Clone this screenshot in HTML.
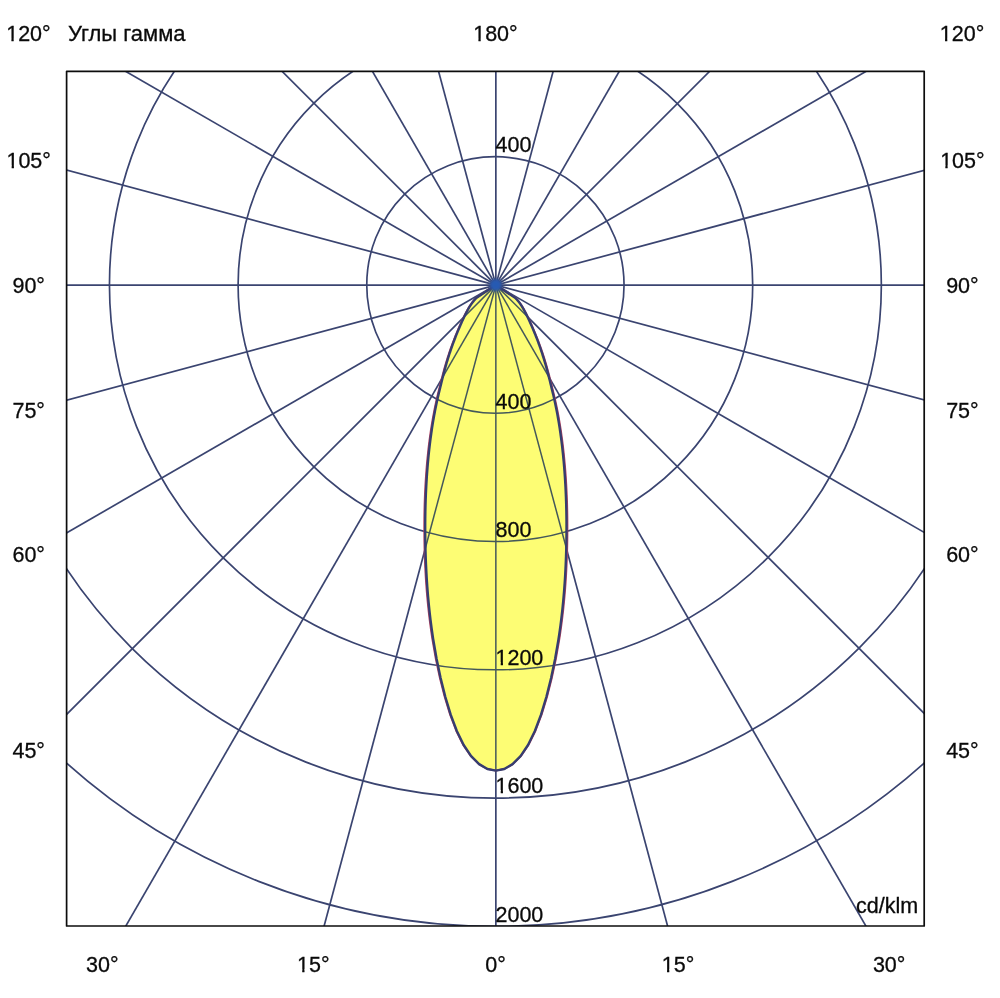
<!DOCTYPE html>
<html><head><meta charset="utf-8"><title>Углы гамма</title>
<style>
html,body{margin:0;padding:0;background:#fff;}
body{width:1000px;height:998px;overflow:hidden;}
svg{display:block;}
text{font-family:"Liberation Sans","Noto Sans CJK SC",Arial,sans-serif;font-size:21.5px;fill:#0a0a0a;stroke:#0a0a0a;stroke-width:0.3px;}
</style></head><body>
<svg width="1000" height="998" viewBox="0 0 1000 998">
<defs><filter id="bl" x="-1" y="-1" width="3" height="3"><feGaussianBlur stdDeviation="1.8"/></filter><clipPath id="c"><rect x="66.6" y="71.3" width="857.6" height="854.7"/></clipPath><clipPath id="y"><path d="M495.85,285.00 L476.26,298.06 L475.92,298.42 L475.58,298.78 L475.25,299.13 L474.92,299.49 L474.61,299.85 L474.30,300.20 L473.99,300.56 L473.70,300.92 L473.41,301.28 L473.12,301.64 L472.84,302.00 L472.56,302.36 L472.29,302.72 L472.03,303.08 L471.76,303.45 L471.50,303.82 L471.25,304.19 L471.00,304.56 L470.75,304.93 L470.50,305.31 L470.25,305.69 L470.01,306.07 L469.77,306.46 L469.53,306.85 L469.29,307.24 L469.06,307.64 L468.82,308.04 L468.59,308.45 L468.35,308.86 L468.12,309.28 L467.89,309.70 L467.65,310.12 L467.42,310.56 L467.18,310.99 L466.95,311.44 L466.71,311.89 L466.47,312.35 L466.23,312.81 L465.99,313.29 L465.75,313.77 L465.50,314.26 L465.26,314.75 L465.01,315.26 L464.75,315.77 L464.50,316.30 L464.24,316.83 L463.98,317.37 L463.72,317.92 L463.45,318.49 L463.19,319.06 L462.91,319.65 L462.64,320.25 L462.36,320.85 L462.07,321.48 L461.79,322.11 L461.49,322.76 L461.20,323.42 L460.90,324.09 L460.60,324.78 L460.29,325.48 L459.98,326.20 L459.66,326.93 L459.34,327.67 L459.01,328.44 L458.68,329.22 L458.35,330.01 L458.01,330.82 L457.66,331.65 L457.32,332.50 L456.96,333.37 L456.60,334.25 L456.24,335.15 L455.87,336.07 L455.50,337.01 L455.13,337.97 L454.75,338.95 L454.37,339.95 L453.98,340.97 L453.59,342.00 L453.20,343.06 L452.81,344.14 L452.41,345.23 L452.01,346.35 L451.61,347.49 L451.20,348.65 L450.79,349.83 L450.39,351.03 L449.98,352.25 L449.57,353.49 L449.16,354.75 L448.74,356.04 L448.33,357.34 L447.92,358.67 L447.50,360.02 L447.09,361.39 L446.68,362.78 L446.27,364.20 L445.85,365.64 L445.44,367.10 L445.03,368.58 L444.63,370.08 L444.22,371.61 L443.81,373.17 L443.40,374.76 L442.99,376.38 L442.57,378.04 L442.14,379.73 L441.71,381.48 L441.27,383.27 L440.82,385.11 L440.35,387.00 L439.88,388.95 L439.39,390.97 L438.89,393.04 L438.38,395.16 L437.88,397.32 L437.38,399.51 L436.89,401.72 L436.41,403.95 L435.94,406.22 L435.48,408.51 L435.02,410.83 L434.58,413.17 L434.14,415.55 L433.71,417.96 L433.29,420.40 L432.87,422.87 L432.47,425.37 L432.07,427.91 L431.69,430.48 L431.31,433.08 L430.94,435.72 L430.58,438.40 L430.23,441.11 L429.89,443.85 L429.56,446.64 L429.24,449.46 L428.92,452.33 L428.62,455.23 L428.33,458.17 L428.05,461.16 L427.78,464.19 L427.53,467.25 L427.28,470.37 L427.05,473.52 L426.82,476.72 L426.62,479.97 L426.42,483.26 L426.24,486.60 L426.07,489.99 L425.91,493.42 L425.77,496.91 L425.64,500.44 L425.53,504.02 L425.43,507.66 L425.35,511.34 L425.29,515.08 L425.24,518.87 L425.21,522.71 L425.20,526.61 L425.20,530.56 L425.23,534.57 L425.27,538.64 L425.34,542.76 L425.42,546.94 L425.52,551.17 L425.65,555.46 L425.80,559.80 L425.98,564.19 L426.19,568.62 L426.42,573.10 L426.68,577.62 L426.97,582.17 L427.29,586.77 L427.64,591.39 L428.03,596.04 L428.45,600.73 L428.91,605.43 L429.40,610.16 L429.93,614.91 L430.49,619.67 L431.10,624.45 L431.74,629.23 L432.42,634.03 L433.14,638.83 L433.29,639.79 L436.62,658.98 L440.61,678.03 L445.30,696.73 L450.69,714.66 L456.83,731.02 L463.68,745.04 L471.16,756.12 L479.12,764.11 L487.40,768.96 L495.85,770.59 L504.30,768.96 L512.58,764.11 L520.54,756.12 L528.02,745.04 L534.87,731.02 L541.01,714.66 L546.40,696.73 L551.09,678.03 L555.08,658.98 L558.41,639.79 L559.14,634.99 L559.83,630.19 L560.48,625.40 L561.09,620.62 L561.66,615.86 L562.20,611.11 L562.70,606.37 L563.16,601.66 L563.59,596.98 L563.98,592.32 L564.34,587.69 L564.67,583.09 L564.97,578.53 L565.23,574.00 L565.47,569.51 L565.68,565.07 L565.86,560.67 L566.02,556.32 L566.15,552.03 L566.26,547.78 L566.35,543.59 L566.42,539.46 L566.46,535.38 L566.49,531.36 L566.50,527.40 L566.49,523.49 L566.47,519.63 L566.42,515.83 L566.36,512.09 L566.28,508.39 L566.19,504.75 L566.08,501.15 L565.96,497.61 L565.82,494.12 L565.67,490.67 L565.50,487.28 L565.32,483.93 L565.12,480.63 L564.92,477.37 L564.70,474.16 L564.47,471.00 L564.22,467.87 L563.97,464.80 L563.70,461.76 L563.42,458.77 L563.14,455.82 L562.84,452.90 L562.53,450.03 L562.21,447.20 L561.88,444.41 L561.54,441.65 L561.19,438.93 L560.83,436.25 L560.47,433.61 L560.09,431.00 L559.70,428.42 L559.31,425.88 L558.91,423.37 L558.50,420.89 L558.08,418.45 L557.65,416.03 L557.21,413.65 L556.77,411.29 L556.31,408.97 L555.85,406.67 L555.38,404.40 L554.90,402.16 L554.42,399.95 L553.92,397.76 L553.42,395.59 L552.92,393.46 L552.41,391.38 L551.92,389.35 L551.44,387.39 L550.98,385.48 L550.52,383.63 L550.08,381.83 L549.64,380.08 L549.22,378.37 L548.80,376.71 L548.38,375.08 L547.97,373.48 L547.56,371.92 L547.16,370.39 L546.75,368.88 L546.34,367.39 L545.93,365.93 L545.52,364.48 L545.10,363.06 L544.69,361.67 L544.28,360.29 L543.87,358.94 L543.45,357.61 L543.04,356.29 L542.63,355.01 L542.22,353.74 L541.80,352.49 L541.39,351.27 L540.99,350.06 L540.58,348.88 L540.18,347.72 L539.77,346.58 L539.37,345.46 L538.97,344.36 L538.58,343.27 L538.19,342.21 L537.80,341.17 L537.41,340.15 L537.03,339.15 L536.65,338.17 L536.27,337.20 L535.90,336.26 L535.53,335.34 L535.17,334.43 L534.81,333.54 L534.45,332.67 L534.10,331.82 L533.76,330.99 L533.42,330.17 L533.08,329.37 L532.75,328.59 L532.43,327.83 L532.10,327.08 L531.79,326.34 L531.47,325.62 L531.17,324.92 L530.86,324.23 L530.56,323.55 L530.26,322.89 L529.97,322.24 L529.68,321.60 L529.40,320.98 L529.12,320.37 L528.84,319.77 L528.57,319.18 L528.30,318.60 L528.03,318.04 L527.77,317.48 L527.51,316.94 L527.25,316.40 L527.00,315.88 L526.74,315.36 L526.49,314.85 L526.25,314.35 L526.00,313.86 L525.76,313.38 L525.52,312.91 L525.28,312.44 L525.04,311.98 L524.80,311.53 L524.56,311.08 L524.33,310.64 L524.09,310.21 L523.86,309.78 L523.63,309.36 L523.39,308.94 L523.16,308.53 L522.92,308.12 L522.69,307.72 L522.45,307.32 L522.22,306.93 L521.98,306.54 L521.74,306.15 L521.49,305.77 L521.25,305.39 L521.00,305.01 L520.76,304.63 L520.50,304.26 L520.25,303.89 L519.99,303.52 L519.73,303.16 L519.46,302.79 L519.19,302.43 L518.92,302.07 L518.64,301.71 L518.35,301.35 L518.06,300.99 L517.77,300.63 L517.46,300.27 L517.15,299.92 L516.84,299.56 L516.52,299.20 L516.19,298.85 L515.85,298.49 L515.51,298.13 L515.44,298.06 Z"/></clipPath><clipPath id="o"><path clip-rule="evenodd" d="M0,0 H1000 V998 H0 Z M495.85,285.00 L476.26,298.06 L475.92,298.42 L475.58,298.78 L475.25,299.13 L474.92,299.49 L474.61,299.85 L474.30,300.20 L473.99,300.56 L473.70,300.92 L473.41,301.28 L473.12,301.64 L472.84,302.00 L472.56,302.36 L472.29,302.72 L472.03,303.08 L471.76,303.45 L471.50,303.82 L471.25,304.19 L471.00,304.56 L470.75,304.93 L470.50,305.31 L470.25,305.69 L470.01,306.07 L469.77,306.46 L469.53,306.85 L469.29,307.24 L469.06,307.64 L468.82,308.04 L468.59,308.45 L468.35,308.86 L468.12,309.28 L467.89,309.70 L467.65,310.12 L467.42,310.56 L467.18,310.99 L466.95,311.44 L466.71,311.89 L466.47,312.35 L466.23,312.81 L465.99,313.29 L465.75,313.77 L465.50,314.26 L465.26,314.75 L465.01,315.26 L464.75,315.77 L464.50,316.30 L464.24,316.83 L463.98,317.37 L463.72,317.92 L463.45,318.49 L463.19,319.06 L462.91,319.65 L462.64,320.25 L462.36,320.85 L462.07,321.48 L461.79,322.11 L461.49,322.76 L461.20,323.42 L460.90,324.09 L460.60,324.78 L460.29,325.48 L459.98,326.20 L459.66,326.93 L459.34,327.67 L459.01,328.44 L458.68,329.22 L458.35,330.01 L458.01,330.82 L457.66,331.65 L457.32,332.50 L456.96,333.37 L456.60,334.25 L456.24,335.15 L455.87,336.07 L455.50,337.01 L455.13,337.97 L454.75,338.95 L454.37,339.95 L453.98,340.97 L453.59,342.00 L453.20,343.06 L452.81,344.14 L452.41,345.23 L452.01,346.35 L451.61,347.49 L451.20,348.65 L450.79,349.83 L450.39,351.03 L449.98,352.25 L449.57,353.49 L449.16,354.75 L448.74,356.04 L448.33,357.34 L447.92,358.67 L447.50,360.02 L447.09,361.39 L446.68,362.78 L446.27,364.20 L445.85,365.64 L445.44,367.10 L445.03,368.58 L444.63,370.08 L444.22,371.61 L443.81,373.17 L443.40,374.76 L442.99,376.38 L442.57,378.04 L442.14,379.73 L441.71,381.48 L441.27,383.27 L440.82,385.11 L440.35,387.00 L439.88,388.95 L439.39,390.97 L438.89,393.04 L438.38,395.16 L437.88,397.32 L437.38,399.51 L436.89,401.72 L436.41,403.95 L435.94,406.22 L435.48,408.51 L435.02,410.83 L434.58,413.17 L434.14,415.55 L433.71,417.96 L433.29,420.40 L432.87,422.87 L432.47,425.37 L432.07,427.91 L431.69,430.48 L431.31,433.08 L430.94,435.72 L430.58,438.40 L430.23,441.11 L429.89,443.85 L429.56,446.64 L429.24,449.46 L428.92,452.33 L428.62,455.23 L428.33,458.17 L428.05,461.16 L427.78,464.19 L427.53,467.25 L427.28,470.37 L427.05,473.52 L426.82,476.72 L426.62,479.97 L426.42,483.26 L426.24,486.60 L426.07,489.99 L425.91,493.42 L425.77,496.91 L425.64,500.44 L425.53,504.02 L425.43,507.66 L425.35,511.34 L425.29,515.08 L425.24,518.87 L425.21,522.71 L425.20,526.61 L425.20,530.56 L425.23,534.57 L425.27,538.64 L425.34,542.76 L425.42,546.94 L425.52,551.17 L425.65,555.46 L425.80,559.80 L425.98,564.19 L426.19,568.62 L426.42,573.10 L426.68,577.62 L426.97,582.17 L427.29,586.77 L427.64,591.39 L428.03,596.04 L428.45,600.73 L428.91,605.43 L429.40,610.16 L429.93,614.91 L430.49,619.67 L431.10,624.45 L431.74,629.23 L432.42,634.03 L433.14,638.83 L433.29,639.79 L436.62,658.98 L440.61,678.03 L445.30,696.73 L450.69,714.66 L456.83,731.02 L463.68,745.04 L471.16,756.12 L479.12,764.11 L487.40,768.96 L495.85,770.59 L504.30,768.96 L512.58,764.11 L520.54,756.12 L528.02,745.04 L534.87,731.02 L541.01,714.66 L546.40,696.73 L551.09,678.03 L555.08,658.98 L558.41,639.79 L559.14,634.99 L559.83,630.19 L560.48,625.40 L561.09,620.62 L561.66,615.86 L562.20,611.11 L562.70,606.37 L563.16,601.66 L563.59,596.98 L563.98,592.32 L564.34,587.69 L564.67,583.09 L564.97,578.53 L565.23,574.00 L565.47,569.51 L565.68,565.07 L565.86,560.67 L566.02,556.32 L566.15,552.03 L566.26,547.78 L566.35,543.59 L566.42,539.46 L566.46,535.38 L566.49,531.36 L566.50,527.40 L566.49,523.49 L566.47,519.63 L566.42,515.83 L566.36,512.09 L566.28,508.39 L566.19,504.75 L566.08,501.15 L565.96,497.61 L565.82,494.12 L565.67,490.67 L565.50,487.28 L565.32,483.93 L565.12,480.63 L564.92,477.37 L564.70,474.16 L564.47,471.00 L564.22,467.87 L563.97,464.80 L563.70,461.76 L563.42,458.77 L563.14,455.82 L562.84,452.90 L562.53,450.03 L562.21,447.20 L561.88,444.41 L561.54,441.65 L561.19,438.93 L560.83,436.25 L560.47,433.61 L560.09,431.00 L559.70,428.42 L559.31,425.88 L558.91,423.37 L558.50,420.89 L558.08,418.45 L557.65,416.03 L557.21,413.65 L556.77,411.29 L556.31,408.97 L555.85,406.67 L555.38,404.40 L554.90,402.16 L554.42,399.95 L553.92,397.76 L553.42,395.59 L552.92,393.46 L552.41,391.38 L551.92,389.35 L551.44,387.39 L550.98,385.48 L550.52,383.63 L550.08,381.83 L549.64,380.08 L549.22,378.37 L548.80,376.71 L548.38,375.08 L547.97,373.48 L547.56,371.92 L547.16,370.39 L546.75,368.88 L546.34,367.39 L545.93,365.93 L545.52,364.48 L545.10,363.06 L544.69,361.67 L544.28,360.29 L543.87,358.94 L543.45,357.61 L543.04,356.29 L542.63,355.01 L542.22,353.74 L541.80,352.49 L541.39,351.27 L540.99,350.06 L540.58,348.88 L540.18,347.72 L539.77,346.58 L539.37,345.46 L538.97,344.36 L538.58,343.27 L538.19,342.21 L537.80,341.17 L537.41,340.15 L537.03,339.15 L536.65,338.17 L536.27,337.20 L535.90,336.26 L535.53,335.34 L535.17,334.43 L534.81,333.54 L534.45,332.67 L534.10,331.82 L533.76,330.99 L533.42,330.17 L533.08,329.37 L532.75,328.59 L532.43,327.83 L532.10,327.08 L531.79,326.34 L531.47,325.62 L531.17,324.92 L530.86,324.23 L530.56,323.55 L530.26,322.89 L529.97,322.24 L529.68,321.60 L529.40,320.98 L529.12,320.37 L528.84,319.77 L528.57,319.18 L528.30,318.60 L528.03,318.04 L527.77,317.48 L527.51,316.94 L527.25,316.40 L527.00,315.88 L526.74,315.36 L526.49,314.85 L526.25,314.35 L526.00,313.86 L525.76,313.38 L525.52,312.91 L525.28,312.44 L525.04,311.98 L524.80,311.53 L524.56,311.08 L524.33,310.64 L524.09,310.21 L523.86,309.78 L523.63,309.36 L523.39,308.94 L523.16,308.53 L522.92,308.12 L522.69,307.72 L522.45,307.32 L522.22,306.93 L521.98,306.54 L521.74,306.15 L521.49,305.77 L521.25,305.39 L521.00,305.01 L520.76,304.63 L520.50,304.26 L520.25,303.89 L519.99,303.52 L519.73,303.16 L519.46,302.79 L519.19,302.43 L518.92,302.07 L518.64,301.71 L518.35,301.35 L518.06,300.99 L517.77,300.63 L517.46,300.27 L517.15,299.92 L516.84,299.56 L516.52,299.20 L516.19,298.85 L515.85,298.49 L515.51,298.13 L515.44,298.06 Z"/></clipPath><clipPath id="k0"><rect x="0.20" y="11.40" width="56.52" height="27.40"/><rect x="0.20" y="38.79" width="5.00" height="10.60"/><rect x="11.45" y="38.79" width="2.21" height="10.60"/><rect x="18.17" y="38.79" width="38.55" height="10.60"/></clipPath><clipPath id="k1"><rect x="467.20" y="11.40" width="56.52" height="27.40"/><rect x="467.20" y="38.79" width="5.00" height="10.60"/><rect x="478.45" y="38.79" width="2.21" height="10.60"/><rect x="485.17" y="38.79" width="38.55" height="10.60"/></clipPath><clipPath id="k2"><rect x="933.80" y="11.40" width="56.52" height="27.40"/><rect x="933.80" y="38.79" width="5.00" height="10.60"/><rect x="945.05" y="38.79" width="2.21" height="10.60"/><rect x="951.77" y="38.79" width="38.55" height="10.60"/></clipPath><clipPath id="k3"><rect x="0.44" y="138.20" width="56.52" height="27.40"/><rect x="0.44" y="165.59" width="5.00" height="10.60"/><rect x="11.69" y="165.59" width="2.21" height="10.60"/><rect x="18.41" y="165.59" width="38.55" height="10.60"/></clipPath><clipPath id="k4"><rect x="934.14" y="138.20" width="56.52" height="27.40"/><rect x="934.14" y="165.59" width="5.00" height="10.60"/><rect x="945.39" y="165.59" width="2.21" height="10.60"/><rect x="952.11" y="165.59" width="38.55" height="10.60"/></clipPath><clipPath id="k5"><rect x="291.00" y="941.90" width="44.55" height="27.40"/><rect x="291.00" y="969.29" width="5.00" height="10.60"/><rect x="302.25" y="969.29" width="2.21" height="10.60"/><rect x="308.97" y="969.29" width="26.58" height="10.60"/></clipPath><clipPath id="k6"><rect x="655.80" y="941.90" width="44.55" height="27.40"/><rect x="655.80" y="969.29" width="5.00" height="10.60"/><rect x="667.05" y="969.29" width="2.21" height="10.60"/><rect x="673.77" y="969.29" width="26.58" height="10.60"/></clipPath><clipPath id="k7"><rect x="489.50" y="634.80" width="59.88" height="27.40"/><rect x="489.50" y="662.19" width="5.00" height="10.60"/><rect x="500.75" y="662.19" width="2.21" height="10.60"/><rect x="507.47" y="662.19" width="41.91" height="10.60"/></clipPath><clipPath id="k8"><rect x="489.50" y="762.70" width="59.88" height="27.40"/><rect x="489.50" y="790.09" width="5.00" height="10.60"/><rect x="500.75" y="790.09" width="2.21" height="10.60"/><rect x="507.47" y="790.09" width="41.91" height="10.60"/></clipPath></defs>
<rect width="1000" height="998" fill="#fff"/>
<g clip-path="url(#c)">
<path d="M495.85,285.00 L476.26,298.06 L475.92,298.42 L475.58,298.78 L475.25,299.13 L474.92,299.49 L474.61,299.85 L474.30,300.20 L473.99,300.56 L473.70,300.92 L473.41,301.28 L473.12,301.64 L472.84,302.00 L472.56,302.36 L472.29,302.72 L472.03,303.08 L471.76,303.45 L471.50,303.82 L471.25,304.19 L471.00,304.56 L470.75,304.93 L470.50,305.31 L470.25,305.69 L470.01,306.07 L469.77,306.46 L469.53,306.85 L469.29,307.24 L469.06,307.64 L468.82,308.04 L468.59,308.45 L468.35,308.86 L468.12,309.28 L467.89,309.70 L467.65,310.12 L467.42,310.56 L467.18,310.99 L466.95,311.44 L466.71,311.89 L466.47,312.35 L466.23,312.81 L465.99,313.29 L465.75,313.77 L465.50,314.26 L465.26,314.75 L465.01,315.26 L464.75,315.77 L464.50,316.30 L464.24,316.83 L463.98,317.37 L463.72,317.92 L463.45,318.49 L463.19,319.06 L462.91,319.65 L462.64,320.25 L462.36,320.85 L462.07,321.48 L461.79,322.11 L461.49,322.76 L461.20,323.42 L460.90,324.09 L460.60,324.78 L460.29,325.48 L459.98,326.20 L459.66,326.93 L459.34,327.67 L459.01,328.44 L458.68,329.22 L458.35,330.01 L458.01,330.82 L457.66,331.65 L457.32,332.50 L456.96,333.37 L456.60,334.25 L456.24,335.15 L455.87,336.07 L455.50,337.01 L455.13,337.97 L454.75,338.95 L454.37,339.95 L453.98,340.97 L453.59,342.00 L453.20,343.06 L452.81,344.14 L452.41,345.23 L452.01,346.35 L451.61,347.49 L451.20,348.65 L450.79,349.83 L450.39,351.03 L449.98,352.25 L449.57,353.49 L449.16,354.75 L448.74,356.04 L448.33,357.34 L447.92,358.67 L447.50,360.02 L447.09,361.39 L446.68,362.78 L446.27,364.20 L445.85,365.64 L445.44,367.10 L445.03,368.58 L444.63,370.08 L444.22,371.61 L443.81,373.17 L443.40,374.76 L442.99,376.38 L442.57,378.04 L442.14,379.73 L441.71,381.48 L441.27,383.27 L440.82,385.11 L440.35,387.00 L439.88,388.95 L439.39,390.97 L438.89,393.04 L438.38,395.16 L437.88,397.32 L437.38,399.51 L436.89,401.72 L436.41,403.95 L435.94,406.22 L435.48,408.51 L435.02,410.83 L434.58,413.17 L434.14,415.55 L433.71,417.96 L433.29,420.40 L432.87,422.87 L432.47,425.37 L432.07,427.91 L431.69,430.48 L431.31,433.08 L430.94,435.72 L430.58,438.40 L430.23,441.11 L429.89,443.85 L429.56,446.64 L429.24,449.46 L428.92,452.33 L428.62,455.23 L428.33,458.17 L428.05,461.16 L427.78,464.19 L427.53,467.25 L427.28,470.37 L427.05,473.52 L426.82,476.72 L426.62,479.97 L426.42,483.26 L426.24,486.60 L426.07,489.99 L425.91,493.42 L425.77,496.91 L425.64,500.44 L425.53,504.02 L425.43,507.66 L425.35,511.34 L425.29,515.08 L425.24,518.87 L425.21,522.71 L425.20,526.61 L425.20,530.56 L425.23,534.57 L425.27,538.64 L425.34,542.76 L425.42,546.94 L425.52,551.17 L425.65,555.46 L425.80,559.80 L425.98,564.19 L426.19,568.62 L426.42,573.10 L426.68,577.62 L426.97,582.17 L427.29,586.77 L427.64,591.39 L428.03,596.04 L428.45,600.73 L428.91,605.43 L429.40,610.16 L429.93,614.91 L430.49,619.67 L431.10,624.45 L431.74,629.23 L432.42,634.03 L433.14,638.83 L433.29,639.79 L436.62,658.98 L440.61,678.03 L445.30,696.73 L450.69,714.66 L456.83,731.02 L463.68,745.04 L471.16,756.12 L479.12,764.11 L487.40,768.96 L495.85,770.59 L504.30,768.96 L512.58,764.11 L520.54,756.12 L528.02,745.04 L534.87,731.02 L541.01,714.66 L546.40,696.73 L551.09,678.03 L555.08,658.98 L558.41,639.79 L559.14,634.99 L559.83,630.19 L560.48,625.40 L561.09,620.62 L561.66,615.86 L562.20,611.11 L562.70,606.37 L563.16,601.66 L563.59,596.98 L563.98,592.32 L564.34,587.69 L564.67,583.09 L564.97,578.53 L565.23,574.00 L565.47,569.51 L565.68,565.07 L565.86,560.67 L566.02,556.32 L566.15,552.03 L566.26,547.78 L566.35,543.59 L566.42,539.46 L566.46,535.38 L566.49,531.36 L566.50,527.40 L566.49,523.49 L566.47,519.63 L566.42,515.83 L566.36,512.09 L566.28,508.39 L566.19,504.75 L566.08,501.15 L565.96,497.61 L565.82,494.12 L565.67,490.67 L565.50,487.28 L565.32,483.93 L565.12,480.63 L564.92,477.37 L564.70,474.16 L564.47,471.00 L564.22,467.87 L563.97,464.80 L563.70,461.76 L563.42,458.77 L563.14,455.82 L562.84,452.90 L562.53,450.03 L562.21,447.20 L561.88,444.41 L561.54,441.65 L561.19,438.93 L560.83,436.25 L560.47,433.61 L560.09,431.00 L559.70,428.42 L559.31,425.88 L558.91,423.37 L558.50,420.89 L558.08,418.45 L557.65,416.03 L557.21,413.65 L556.77,411.29 L556.31,408.97 L555.85,406.67 L555.38,404.40 L554.90,402.16 L554.42,399.95 L553.92,397.76 L553.42,395.59 L552.92,393.46 L552.41,391.38 L551.92,389.35 L551.44,387.39 L550.98,385.48 L550.52,383.63 L550.08,381.83 L549.64,380.08 L549.22,378.37 L548.80,376.71 L548.38,375.08 L547.97,373.48 L547.56,371.92 L547.16,370.39 L546.75,368.88 L546.34,367.39 L545.93,365.93 L545.52,364.48 L545.10,363.06 L544.69,361.67 L544.28,360.29 L543.87,358.94 L543.45,357.61 L543.04,356.29 L542.63,355.01 L542.22,353.74 L541.80,352.49 L541.39,351.27 L540.99,350.06 L540.58,348.88 L540.18,347.72 L539.77,346.58 L539.37,345.46 L538.97,344.36 L538.58,343.27 L538.19,342.21 L537.80,341.17 L537.41,340.15 L537.03,339.15 L536.65,338.17 L536.27,337.20 L535.90,336.26 L535.53,335.34 L535.17,334.43 L534.81,333.54 L534.45,332.67 L534.10,331.82 L533.76,330.99 L533.42,330.17 L533.08,329.37 L532.75,328.59 L532.43,327.83 L532.10,327.08 L531.79,326.34 L531.47,325.62 L531.17,324.92 L530.86,324.23 L530.56,323.55 L530.26,322.89 L529.97,322.24 L529.68,321.60 L529.40,320.98 L529.12,320.37 L528.84,319.77 L528.57,319.18 L528.30,318.60 L528.03,318.04 L527.77,317.48 L527.51,316.94 L527.25,316.40 L527.00,315.88 L526.74,315.36 L526.49,314.85 L526.25,314.35 L526.00,313.86 L525.76,313.38 L525.52,312.91 L525.28,312.44 L525.04,311.98 L524.80,311.53 L524.56,311.08 L524.33,310.64 L524.09,310.21 L523.86,309.78 L523.63,309.36 L523.39,308.94 L523.16,308.53 L522.92,308.12 L522.69,307.72 L522.45,307.32 L522.22,306.93 L521.98,306.54 L521.74,306.15 L521.49,305.77 L521.25,305.39 L521.00,305.01 L520.76,304.63 L520.50,304.26 L520.25,303.89 L519.99,303.52 L519.73,303.16 L519.46,302.79 L519.19,302.43 L518.92,302.07 L518.64,301.71 L518.35,301.35 L518.06,300.99 L517.77,300.63 L517.46,300.27 L517.15,299.92 L516.84,299.56 L516.52,299.20 L516.19,298.85 L515.85,298.49 L515.51,298.13 L515.44,298.06 Z" fill="#fdfd74" stroke="none"/>
<g stroke="#3a4470" stroke-width="1.7" fill="none" clip-path="url(#o)">
<line x1="495.85" y1="285.1" x2="495.85" y2="1685.10"/>
<line x1="495.85" y1="285.1" x2="858.20" y2="1637.40"/>
<line x1="495.85" y1="285.1" x2="1195.85" y2="1497.54"/>
<line x1="495.85" y1="285.1" x2="1485.80" y2="1275.05"/>
<line x1="495.85" y1="285.1" x2="1708.29" y2="985.10"/>
<line x1="495.85" y1="285.1" x2="1848.15" y2="647.45"/>
<line x1="495.85" y1="285.1" x2="1895.85" y2="285.10"/>
<line x1="495.85" y1="285.1" x2="1848.15" y2="-77.25"/>
<line x1="495.85" y1="285.1" x2="1708.29" y2="-414.90"/>
<line x1="495.85" y1="285.1" x2="1485.80" y2="-704.85"/>
<line x1="495.85" y1="285.1" x2="1195.85" y2="-927.34"/>
<line x1="495.85" y1="285.1" x2="858.20" y2="-1067.20"/>
<line x1="495.85" y1="285.1" x2="495.85" y2="-1114.90"/>
<line x1="495.85" y1="285.1" x2="133.50" y2="-1067.20"/>
<line x1="495.85" y1="285.1" x2="-204.15" y2="-927.34"/>
<line x1="495.85" y1="285.1" x2="-494.10" y2="-704.85"/>
<line x1="495.85" y1="285.1" x2="-716.59" y2="-414.90"/>
<line x1="495.85" y1="285.1" x2="-856.45" y2="-77.25"/>
<line x1="495.85" y1="285.1" x2="-904.15" y2="285.10"/>
<line x1="495.85" y1="285.1" x2="-856.45" y2="647.45"/>
<line x1="495.85" y1="285.1" x2="-716.59" y2="985.10"/>
<line x1="495.85" y1="285.1" x2="-494.10" y2="1275.05"/>
<line x1="495.85" y1="285.1" x2="-204.15" y2="1497.54"/>
<line x1="495.85" y1="285.1" x2="133.50" y2="1637.40"/>
<ellipse cx="495.4" cy="285.0" rx="128.65" ry="128.28"/>
<ellipse cx="495.4" cy="285.0" rx="257.30" ry="256.56"/>
<ellipse cx="495.4" cy="285.0" rx="385.95" ry="384.84"/>
<ellipse cx="495.4" cy="285.0" rx="514.60" ry="513.12"/>
<ellipse cx="495.4" cy="285.0" rx="643.25" ry="641.40"/>
</g>
<g stroke="#44585a" stroke-width="1.5" fill="none" clip-path="url(#y)">
<line x1="495.85" y1="285.1" x2="495.85" y2="1685.10"/>
<line x1="495.85" y1="285.1" x2="858.20" y2="1637.40"/>
<line x1="495.85" y1="285.1" x2="1195.85" y2="1497.54"/>
<line x1="495.85" y1="285.1" x2="1485.80" y2="1275.05"/>
<line x1="495.85" y1="285.1" x2="1708.29" y2="985.10"/>
<line x1="495.85" y1="285.1" x2="1848.15" y2="647.45"/>
<line x1="495.85" y1="285.1" x2="1895.85" y2="285.10"/>
<line x1="495.85" y1="285.1" x2="1848.15" y2="-77.25"/>
<line x1="495.85" y1="285.1" x2="1708.29" y2="-414.90"/>
<line x1="495.85" y1="285.1" x2="1485.80" y2="-704.85"/>
<line x1="495.85" y1="285.1" x2="1195.85" y2="-927.34"/>
<line x1="495.85" y1="285.1" x2="858.20" y2="-1067.20"/>
<line x1="495.85" y1="285.1" x2="495.85" y2="-1114.90"/>
<line x1="495.85" y1="285.1" x2="133.50" y2="-1067.20"/>
<line x1="495.85" y1="285.1" x2="-204.15" y2="-927.34"/>
<line x1="495.85" y1="285.1" x2="-494.10" y2="-704.85"/>
<line x1="495.85" y1="285.1" x2="-716.59" y2="-414.90"/>
<line x1="495.85" y1="285.1" x2="-856.45" y2="-77.25"/>
<line x1="495.85" y1="285.1" x2="-904.15" y2="285.10"/>
<line x1="495.85" y1="285.1" x2="-856.45" y2="647.45"/>
<line x1="495.85" y1="285.1" x2="-716.59" y2="985.10"/>
<line x1="495.85" y1="285.1" x2="-494.10" y2="1275.05"/>
<line x1="495.85" y1="285.1" x2="-204.15" y2="1497.54"/>
<line x1="495.85" y1="285.1" x2="133.50" y2="1637.40"/>
<ellipse cx="495.4" cy="285.0" rx="128.65" ry="128.28"/>
<ellipse cx="495.4" cy="285.0" rx="257.30" ry="256.56"/>
<ellipse cx="495.4" cy="285.0" rx="385.95" ry="384.84"/>
<ellipse cx="495.4" cy="285.0" rx="514.60" ry="513.12"/>
<ellipse cx="495.4" cy="285.0" rx="643.25" ry="641.40"/>
</g>
<path d="M495.85,285.00 L475.99,298.06 L475.64,298.42 L475.29,298.78 L474.96,299.13 L474.63,299.49 L474.31,299.85 L474.00,300.20 L473.69,300.56 L473.39,300.92 L473.09,301.28 L472.80,301.64 L472.52,302.00 L472.24,302.36 L471.96,302.72 L471.69,303.08 L471.43,303.45 L471.16,303.82 L470.90,304.19 L470.65,304.56 L470.39,304.93 L470.14,305.31 L469.90,305.69 L469.65,306.07 L469.41,306.46 L469.16,306.85 L468.92,307.24 L468.68,307.64 L468.44,308.04 L468.21,308.45 L467.97,308.86 L467.73,309.28 L467.49,309.70 L467.26,310.12 L467.02,310.56 L466.78,310.99 L466.54,311.44 L466.30,311.89 L466.06,312.35 L465.82,312.81 L465.57,313.29 L465.33,313.77 L465.08,314.26 L464.83,314.75 L464.57,315.26 L464.32,315.77 L464.06,316.30 L463.80,316.83 L463.54,317.37 L463.27,317.92 L463.00,318.49 L462.73,319.06 L462.45,319.65 L462.17,320.25 L461.89,320.85 L461.60,321.48 L461.31,322.11 L461.01,322.76 L460.71,323.42 L460.41,324.09 L460.10,324.78 L459.79,325.48 L459.47,326.20 L459.15,326.93 L458.83,327.67 L458.50,328.44 L458.16,329.22 L457.82,330.01 L457.48,330.82 L457.13,331.65 L456.78,332.50 L456.42,333.37 L456.06,334.25 L455.69,335.15 L455.32,336.07 L454.94,337.01 L454.56,337.97 L454.17,338.95 L453.79,339.95 L453.40,340.97 L453.00,342.00 L452.60,343.06 L452.20,344.14 L451.80,345.23 L451.39,346.35 L450.99,347.49 L450.58,348.65 L450.16,349.83 L449.75,351.03 L449.34,352.25 L448.92,353.49 L448.50,354.75 L448.08,356.04 L447.67,357.34 L447.25,358.67 L446.83,360.02 L446.41,361.39 L445.99,362.78 L445.57,364.20 L445.15,365.64 L444.74,367.10 L444.32,368.58 L443.91,370.08 L443.50,371.61 L443.08,373.17 L442.67,374.76 L442.25,376.38 L441.82,378.04 L441.39,379.73 L440.95,381.48 L440.50,383.27 L440.05,385.11 L439.58,387.00 L439.09,388.95 L438.60,390.97 L438.09,393.04 L437.57,395.16 L437.06,397.32 L436.56,399.51 L436.07,401.72 L435.58,403.95 L435.10,406.22 L434.63,408.51 L434.17,410.83 L433.72,413.17 L433.27,415.55 L432.84,417.96 L432.41,420.40 L431.99,422.87 L431.58,425.37 L431.18,427.91 L430.79,430.48 L430.40,433.08 L430.03,435.72 L429.67,438.40 L429.31,441.11 L428.96,443.85 L428.63,446.64 L428.30,449.46 L427.99,452.33 L427.68,455.23 L427.39,458.17 L427.10,461.16 L426.83,464.19 L426.57,467.25 L426.32,470.37 L426.08,473.52 L425.86,476.72 L425.65,479.97 L425.45,483.26 L425.26,486.60 L425.09,489.99 L424.93,493.42 L424.79,496.91 L424.66,500.44 L424.54,504.02 L424.45,507.66 L424.37,511.34 L424.30,515.08 L424.25,518.87 L424.22,522.71 L424.21,526.61 L424.21,530.56 L424.24,534.57 L424.28,538.64 L424.35,542.76 L424.43,546.94 L424.54,551.17 L424.67,555.46 L424.82,559.80 L425.00,564.19 L425.21,568.62 L425.45,573.10 L425.71,577.62 L426.00,582.17 L426.33,586.77 L426.69,591.39 L427.08,596.04 L427.51,600.73 L427.97,605.43 L428.47,610.16 L429.01,614.91 L429.58,619.67 L430.19,624.45 L430.84,629.23 L431.53,634.03 L432.26,638.83 L432.42,639.79 L435.79,658.98 L439.84,678.03 L444.59,696.73 L450.06,714.66 L456.28,731.02 L463.23,745.04 L470.81,756.12 L478.88,764.11 L487.28,768.96 L495.85,770.59 L504.42,768.96 L512.82,764.11 L520.89,756.12 L528.47,745.04 L535.42,731.02 L541.64,714.66 L547.11,696.73 L551.86,678.03 L555.91,658.98 L559.28,639.79 L560.02,634.99 L560.72,630.19 L561.38,625.40 L562.00,620.62 L562.58,615.86 L563.13,611.11 L563.63,606.37 L564.10,601.66 L564.54,596.98 L564.93,592.32 L565.30,587.69 L565.63,583.09 L565.93,578.53 L566.20,574.00 L566.44,569.51 L566.66,565.07 L566.84,560.67 L567.00,556.32 L567.14,552.03 L567.25,547.78 L567.34,543.59 L567.41,539.46 L567.45,535.38 L567.48,531.36 L567.49,527.40 L567.48,523.49 L567.46,519.63 L567.41,515.83 L567.35,512.09 L567.27,508.39 L567.18,504.75 L567.07,501.15 L566.94,497.61 L566.80,494.12 L566.64,490.67 L566.47,487.28 L566.29,483.93 L566.09,480.63 L565.89,477.37 L565.66,474.16 L565.43,471.00 L565.18,467.87 L564.92,464.80 L564.65,461.76 L564.37,458.77 L564.08,455.82 L563.78,452.90 L563.46,450.03 L563.14,447.20 L562.80,444.41 L562.46,441.65 L562.11,438.93 L561.74,436.25 L561.37,433.61 L560.99,431.00 L560.60,428.42 L560.20,425.88 L559.79,423.37 L559.37,420.89 L558.95,418.45 L558.51,416.03 L558.07,413.65 L557.62,411.29 L557.16,408.97 L556.69,406.67 L556.22,404.40 L555.73,402.16 L555.24,399.95 L554.74,397.76 L554.23,395.59 L553.71,393.46 L553.20,391.38 L552.71,389.35 L552.22,387.39 L551.75,385.48 L551.29,383.63 L550.84,381.83 L550.40,380.08 L549.96,378.37 L549.54,376.71 L549.12,375.08 L548.70,373.48 L548.29,371.92 L547.87,370.39 L547.46,368.88 L547.05,367.39 L546.63,365.93 L546.21,364.48 L545.79,363.06 L545.38,361.67 L544.96,360.29 L544.54,358.94 L544.12,357.61 L543.70,356.29 L543.28,355.01 L542.86,353.74 L542.45,352.49 L542.03,351.27 L541.62,350.06 L541.21,348.88 L540.80,347.72 L540.39,346.58 L539.98,345.46 L539.58,344.36 L539.18,343.27 L538.78,342.21 L538.38,341.17 L537.99,340.15 L537.60,339.15 L537.22,338.17 L536.84,337.20 L536.46,336.26 L536.09,335.34 L535.72,334.43 L535.35,333.54 L534.99,332.67 L534.64,331.82 L534.29,330.99 L533.95,330.17 L533.61,329.37 L533.27,328.59 L532.94,327.83 L532.61,327.08 L532.29,326.34 L531.97,325.62 L531.66,324.92 L531.35,324.23 L531.05,323.55 L530.75,322.89 L530.45,322.24 L530.16,321.60 L529.87,320.98 L529.59,320.37 L529.30,319.77 L529.03,319.18 L528.75,318.60 L528.48,318.04 L528.22,317.48 L527.95,316.94 L527.69,316.40 L527.43,315.88 L527.18,315.36 L526.92,314.85 L526.67,314.35 L526.42,313.86 L526.18,313.38 L525.93,312.91 L525.69,312.44 L525.45,311.98 L525.21,311.53 L524.97,311.08 L524.73,310.64 L524.49,310.21 L524.25,309.78 L524.02,309.36 L523.78,308.94 L523.54,308.53 L523.30,308.12 L523.06,307.72 L522.83,307.32 L522.58,306.93 L522.34,306.54 L522.10,306.15 L521.85,305.77 L521.61,305.39 L521.36,305.01 L521.10,304.63 L520.85,304.26 L520.59,303.89 L520.33,303.52 L520.06,303.16 L519.79,302.79 L519.52,302.43 L519.24,302.07 L518.96,301.71 L518.67,301.35 L518.37,300.99 L518.07,300.63 L517.77,300.27 L517.45,299.92 L517.13,299.56 L516.81,299.20 L516.47,298.85 L516.13,298.49 L515.78,298.13 L515.71,298.06 Z" fill="none" stroke="#b04060" stroke-width="1.8" stroke-linejoin="round"/>
<path d="M495.85,285.00 L476.26,298.06 L475.92,298.42 L475.58,298.78 L475.25,299.13 L474.92,299.49 L474.61,299.85 L474.30,300.20 L473.99,300.56 L473.70,300.92 L473.41,301.28 L473.12,301.64 L472.84,302.00 L472.56,302.36 L472.29,302.72 L472.03,303.08 L471.76,303.45 L471.50,303.82 L471.25,304.19 L471.00,304.56 L470.75,304.93 L470.50,305.31 L470.25,305.69 L470.01,306.07 L469.77,306.46 L469.53,306.85 L469.29,307.24 L469.06,307.64 L468.82,308.04 L468.59,308.45 L468.35,308.86 L468.12,309.28 L467.89,309.70 L467.65,310.12 L467.42,310.56 L467.18,310.99 L466.95,311.44 L466.71,311.89 L466.47,312.35 L466.23,312.81 L465.99,313.29 L465.75,313.77 L465.50,314.26 L465.26,314.75 L465.01,315.26 L464.75,315.77 L464.50,316.30 L464.24,316.83 L463.98,317.37 L463.72,317.92 L463.45,318.49 L463.19,319.06 L462.91,319.65 L462.64,320.25 L462.36,320.85 L462.07,321.48 L461.79,322.11 L461.49,322.76 L461.20,323.42 L460.90,324.09 L460.60,324.78 L460.29,325.48 L459.98,326.20 L459.66,326.93 L459.34,327.67 L459.01,328.44 L458.68,329.22 L458.35,330.01 L458.01,330.82 L457.66,331.65 L457.32,332.50 L456.96,333.37 L456.60,334.25 L456.24,335.15 L455.87,336.07 L455.50,337.01 L455.13,337.97 L454.75,338.95 L454.37,339.95 L453.98,340.97 L453.59,342.00 L453.20,343.06 L452.81,344.14 L452.41,345.23 L452.01,346.35 L451.61,347.49 L451.20,348.65 L450.79,349.83 L450.39,351.03 L449.98,352.25 L449.57,353.49 L449.16,354.75 L448.74,356.04 L448.33,357.34 L447.92,358.67 L447.50,360.02 L447.09,361.39 L446.68,362.78 L446.27,364.20 L445.85,365.64 L445.44,367.10 L445.03,368.58 L444.63,370.08 L444.22,371.61 L443.81,373.17 L443.40,374.76 L442.99,376.38 L442.57,378.04 L442.14,379.73 L441.71,381.48 L441.27,383.27 L440.82,385.11 L440.35,387.00 L439.88,388.95 L439.39,390.97 L438.89,393.04 L438.38,395.16 L437.88,397.32 L437.38,399.51 L436.89,401.72 L436.41,403.95 L435.94,406.22 L435.48,408.51 L435.02,410.83 L434.58,413.17 L434.14,415.55 L433.71,417.96 L433.29,420.40 L432.87,422.87 L432.47,425.37 L432.07,427.91 L431.69,430.48 L431.31,433.08 L430.94,435.72 L430.58,438.40 L430.23,441.11 L429.89,443.85 L429.56,446.64 L429.24,449.46 L428.92,452.33 L428.62,455.23 L428.33,458.17 L428.05,461.16 L427.78,464.19 L427.53,467.25 L427.28,470.37 L427.05,473.52 L426.82,476.72 L426.62,479.97 L426.42,483.26 L426.24,486.60 L426.07,489.99 L425.91,493.42 L425.77,496.91 L425.64,500.44 L425.53,504.02 L425.43,507.66 L425.35,511.34 L425.29,515.08 L425.24,518.87 L425.21,522.71 L425.20,526.61 L425.20,530.56 L425.23,534.57 L425.27,538.64 L425.34,542.76 L425.42,546.94 L425.52,551.17 L425.65,555.46 L425.80,559.80 L425.98,564.19 L426.19,568.62 L426.42,573.10 L426.68,577.62 L426.97,582.17 L427.29,586.77 L427.64,591.39 L428.03,596.04 L428.45,600.73 L428.91,605.43 L429.40,610.16 L429.93,614.91 L430.49,619.67 L431.10,624.45 L431.74,629.23 L432.42,634.03 L433.14,638.83 L433.29,639.79 L436.62,658.98 L440.61,678.03 L445.30,696.73 L450.69,714.66 L456.83,731.02 L463.68,745.04 L471.16,756.12 L479.12,764.11 L487.40,768.96 L495.85,770.59 L504.30,768.96 L512.58,764.11 L520.54,756.12 L528.02,745.04 L534.87,731.02 L541.01,714.66 L546.40,696.73 L551.09,678.03 L555.08,658.98 L558.41,639.79 L559.14,634.99 L559.83,630.19 L560.48,625.40 L561.09,620.62 L561.66,615.86 L562.20,611.11 L562.70,606.37 L563.16,601.66 L563.59,596.98 L563.98,592.32 L564.34,587.69 L564.67,583.09 L564.97,578.53 L565.23,574.00 L565.47,569.51 L565.68,565.07 L565.86,560.67 L566.02,556.32 L566.15,552.03 L566.26,547.78 L566.35,543.59 L566.42,539.46 L566.46,535.38 L566.49,531.36 L566.50,527.40 L566.49,523.49 L566.47,519.63 L566.42,515.83 L566.36,512.09 L566.28,508.39 L566.19,504.75 L566.08,501.15 L565.96,497.61 L565.82,494.12 L565.67,490.67 L565.50,487.28 L565.32,483.93 L565.12,480.63 L564.92,477.37 L564.70,474.16 L564.47,471.00 L564.22,467.87 L563.97,464.80 L563.70,461.76 L563.42,458.77 L563.14,455.82 L562.84,452.90 L562.53,450.03 L562.21,447.20 L561.88,444.41 L561.54,441.65 L561.19,438.93 L560.83,436.25 L560.47,433.61 L560.09,431.00 L559.70,428.42 L559.31,425.88 L558.91,423.37 L558.50,420.89 L558.08,418.45 L557.65,416.03 L557.21,413.65 L556.77,411.29 L556.31,408.97 L555.85,406.67 L555.38,404.40 L554.90,402.16 L554.42,399.95 L553.92,397.76 L553.42,395.59 L552.92,393.46 L552.41,391.38 L551.92,389.35 L551.44,387.39 L550.98,385.48 L550.52,383.63 L550.08,381.83 L549.64,380.08 L549.22,378.37 L548.80,376.71 L548.38,375.08 L547.97,373.48 L547.56,371.92 L547.16,370.39 L546.75,368.88 L546.34,367.39 L545.93,365.93 L545.52,364.48 L545.10,363.06 L544.69,361.67 L544.28,360.29 L543.87,358.94 L543.45,357.61 L543.04,356.29 L542.63,355.01 L542.22,353.74 L541.80,352.49 L541.39,351.27 L540.99,350.06 L540.58,348.88 L540.18,347.72 L539.77,346.58 L539.37,345.46 L538.97,344.36 L538.58,343.27 L538.19,342.21 L537.80,341.17 L537.41,340.15 L537.03,339.15 L536.65,338.17 L536.27,337.20 L535.90,336.26 L535.53,335.34 L535.17,334.43 L534.81,333.54 L534.45,332.67 L534.10,331.82 L533.76,330.99 L533.42,330.17 L533.08,329.37 L532.75,328.59 L532.43,327.83 L532.10,327.08 L531.79,326.34 L531.47,325.62 L531.17,324.92 L530.86,324.23 L530.56,323.55 L530.26,322.89 L529.97,322.24 L529.68,321.60 L529.40,320.98 L529.12,320.37 L528.84,319.77 L528.57,319.18 L528.30,318.60 L528.03,318.04 L527.77,317.48 L527.51,316.94 L527.25,316.40 L527.00,315.88 L526.74,315.36 L526.49,314.85 L526.25,314.35 L526.00,313.86 L525.76,313.38 L525.52,312.91 L525.28,312.44 L525.04,311.98 L524.80,311.53 L524.56,311.08 L524.33,310.64 L524.09,310.21 L523.86,309.78 L523.63,309.36 L523.39,308.94 L523.16,308.53 L522.92,308.12 L522.69,307.72 L522.45,307.32 L522.22,306.93 L521.98,306.54 L521.74,306.15 L521.49,305.77 L521.25,305.39 L521.00,305.01 L520.76,304.63 L520.50,304.26 L520.25,303.89 L519.99,303.52 L519.73,303.16 L519.46,302.79 L519.19,302.43 L518.92,302.07 L518.64,301.71 L518.35,301.35 L518.06,300.99 L517.77,300.63 L517.46,300.27 L517.15,299.92 L516.84,299.56 L516.52,299.20 L516.19,298.85 L515.85,298.49 L515.51,298.13 L515.44,298.06 Z" fill="none" stroke="#363e70" stroke-width="2.4" stroke-linejoin="round"/>
<circle cx="495.85" cy="285.0" r="6" fill="#285ab2" filter="url(#bl)"/>
</g>
<rect x="66.6" y="71.3" width="857.6" height="854.7" fill="none" stroke="#0c0c0c" stroke-width="1.7" stroke-linejoin="round"/>
<text x="6.20" y="41.4" clip-path="url(#k0)">120°</text>
<text x="68.0" y="41.4" style="font-size:22.0px">Углы гамма</text>
<text x="473.20" y="41.4" clip-path="url(#k1)">180°</text>
<text x="939.80" y="41.4" clip-path="url(#k2)">120°</text>
<text x="6.44" y="168.2" clip-path="url(#k3)">105°</text>
<text x="940.14" y="168.2" clip-path="url(#k4)">105°</text>
<text x="12.43" y="292.8">90°</text>
<text x="946.13" y="292.8">90°</text>
<text x="12.43" y="417.6">75°</text>
<text x="946.13" y="417.6">75°</text>
<text x="12.43" y="561.5">60°</text>
<text x="946.13" y="561.5">60°</text>
<text x="12.43" y="758.0">45°</text>
<text x="946.13" y="758.0">45°</text>
<text x="86.00" y="971.9">30°</text>
<text x="297.00" y="971.9" clip-path="url(#k5)">15°</text>
<text x="485.30" y="971.9">0°</text>
<text x="661.80" y="971.9" clip-path="url(#k6)">15°</text>
<text x="872.90" y="971.9">30°</text>
<text x="495.50" y="152.0">400</text>
<text x="495.50" y="409.0">400</text>
<text x="495.50" y="537.0">800</text>
<text x="495.50" y="664.8" clip-path="url(#k7)">1200</text>
<text x="495.50" y="792.7" clip-path="url(#k8)">1600</text>
<text x="495.50" y="922.0">2000</text>
<text x="856.00" y="913.2">cd/klm</text>
</svg>
</body></html>
